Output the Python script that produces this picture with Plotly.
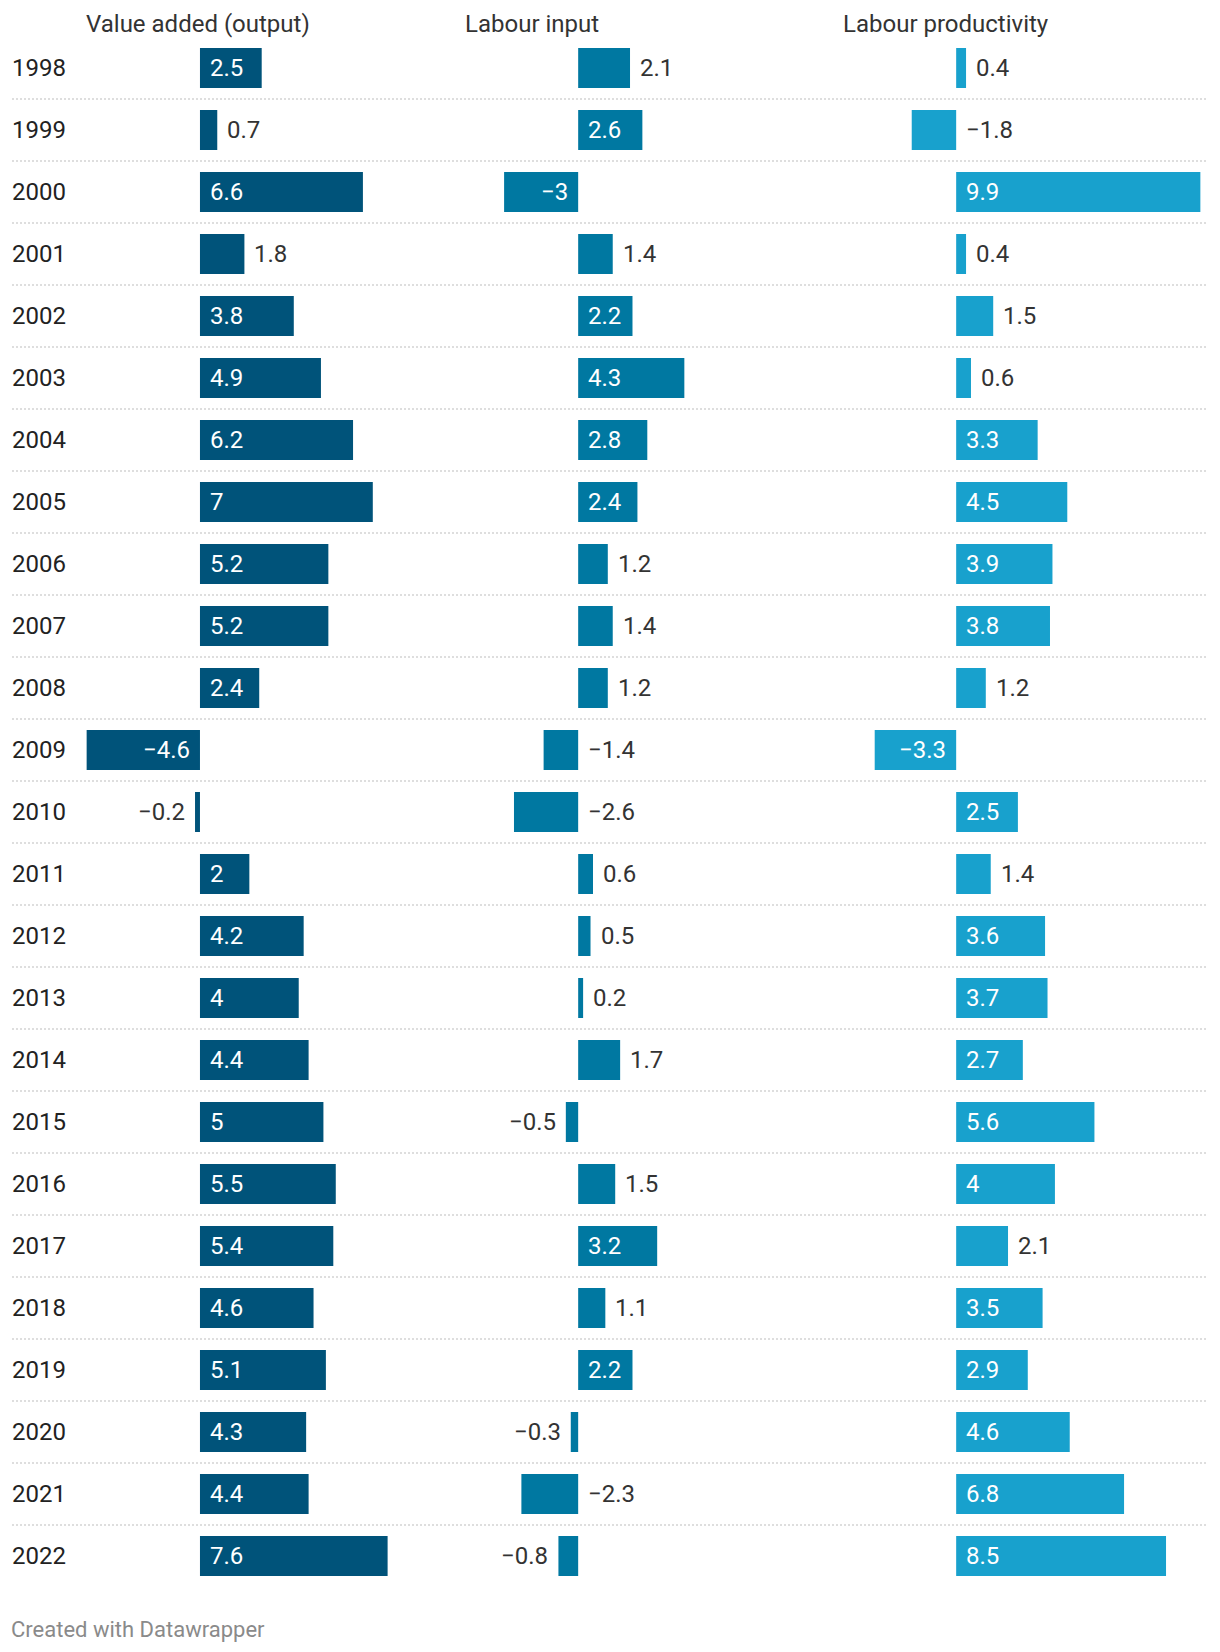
import plotly.graph_objects as go

# ---------------- data ----------------
years = list(range(1998, 2023))
value_added = [2.5, 0.7, 6.6, 1.8, 3.8, 4.9, 6.2, 7, 5.2, 5.2, 2.4, -4.6, -0.2,
               2, 4.2, 4, 4.4, 5, 5.5, 5.4, 4.6, 5.1, 4.3, 4.4, 7.6]
labour_input = [2.1, 2.6, -3, 1.4, 2.2, 4.3, 2.8, 2.4, 1.2, 1.4, 1.2, -1.4, -2.6,
                0.6, 0.5, 0.2, 1.7, -0.5, 1.5, 3.2, 1.1, 2.2, -0.3, -2.3, -0.8]
labour_productivity = [0.4, -1.8, 9.9, 0.4, 1.5, 0.6, 3.3, 4.5, 3.9, 3.8, 1.2, -3.3, 2.5,
                       1.4, 3.6, 3.7, 2.7, 5.6, 4, 2.1, 3.5, 2.9, 4.6, 6.8, 8.5]
column_titles = ["Value added (output)", "Labour input", "Labour productivity"]
series = [value_added, labour_input, labour_productivity]
colors = ["#00537a", "#0078a1", "#18a1cd"]
footer = "Created with Datawrapper"

# ---------------- layout constants ----------------
W, H = 1220, 1652
FONT = "Roboto"
FS = 24
col_left = [86.4, 464.6, 842.6]   # px
col_width = 358.0                 # px
row_top, row_pitch = 37.0, 62.0   # px
n = len(years)

xmin = min(min(s) for s in series)
xmax = max(max(s) for s in series)
px_per_unit = col_width / (xmax - xmin)

def fmt(v):
    return ("%g" % v).replace("-", "\u2212")

def text_w(s, fs=22):
    widths = {".": 0.263, "\u2212": 0.568}
    return sum(widths.get(c, 0.5615) for c in s) * fs

fig = go.Figure()

axes_names = ["x", "x2", "x3"]
for k, (vals, col) in enumerate(zip(series, colors)):
    fig.add_trace(go.Bar(
        x=vals, y=years, orientation="h", width=40 / row_pitch,
        marker=dict(color=col, line=dict(width=0)),
        xaxis=axes_names[k], yaxis="y", hoverinfo="skip", showlegend=False,
    ))

annotations = []
PAD = 8
for k, vals in enumerate(series):
    xref = axes_names[k]
    cmin = min(vals)
    for yr, v in zip(years, vals):
        t = fmt(v)
        w = text_w(t)
        bar_px = abs(v) * px_per_unit
        if bar_px >= w + 22:
            # inside
            if v >= 0:
                a = dict(x=0, xanchor="left", xshift=PAD, color="#ffffff")
            else:
                a = dict(x=0, xanchor="right", xshift=-PAD, color="#ffffff")
        else:
            if v >= 0:
                a = dict(x=v, xanchor="left", xshift=PAD, color="#333333")
            else:
                fits = (bar_px + 9 + w) <= abs(cmin) * px_per_unit
                if fits:
                    a = dict(x=v, xanchor="right", xshift=-PAD, color="#333333")
                else:
                    a = dict(x=0, xanchor="left", xshift=PAD, color="#333333")
        annotations.append(dict(
            x=a["x"], y=yr, xref=xref, yref="y", text=t, showarrow=False,
            xanchor=a["xanchor"], yanchor="middle", xshift=a["xshift"],
            font=dict(family=FONT, size=FS, color=a["color"]),
        ))

# year labels
for yr in years:
    annotations.append(dict(
        x=10 / W, y=yr, xref="paper", yref="y", text=str(yr), showarrow=False,
        xanchor="left", yanchor="middle",
        font=dict(family=FONT, size=FS, color="#222222"),
    ))

# column headers
for k, title in enumerate(column_titles):
    annotations.append(dict(
        x=0, y=1 - 24 / H, xref=axes_names[k] + " domain", yref="paper", text=title,
        showarrow=False, xanchor="left", yanchor="middle", xshift=-2,
        font=dict(family=FONT, size=FS, color="#333333"),
    ))

# footer
annotations.append(dict(
    x=9 / W, y=1 - 1629 / H, xref="paper", yref="paper", text=footer,
    showarrow=False, xanchor="left", yanchor="middle",
    font=dict(family=FONT, size=22, color="#8a8a8a"),
))

# dotted separators
shapes = []
for yr in years[:-1]:
    shapes.append(dict(
        type="line", xref="paper", yref="y", x0=12 / W, x1=1208 / W,
        y0=yr + 0.5, y1=yr + 0.5,
        line=dict(color="#d4d4d4", width=1.5, dash="2px,2px"), layer="below",
    ))

xaxis_common = dict(range=[xmin, xmax], visible=False, showgrid=False,
                    zeroline=False, fixedrange=True, anchor="y")
layout_axes = {}
for k, name in enumerate(["xaxis", "xaxis2", "xaxis3"]):
    d = dict(xaxis_common)
    d["domain"] = [col_left[k] / W, (col_left[k] + col_width) / W]
    layout_axes[name] = d

fig.update_layout(
    width=W, height=H,
    margin=dict(l=0, r=0, t=0, b=0),
    paper_bgcolor="#ffffff", plot_bgcolor="rgba(0,0,0,0)",
    barmode="overlay",
    yaxis=dict(range=[years[-1] + 0.5, years[0] - 0.5], visible=False,
               showgrid=False, zeroline=False, fixedrange=True,
               domain=[1 - (row_top + n * row_pitch) / H, 1 - row_top / H]),
    annotations=annotations, shapes=shapes,
    font=dict(family=FONT, size=FS),
    **layout_axes,
)

fig.write_html("out.html", config={"displayModeBar": False})
